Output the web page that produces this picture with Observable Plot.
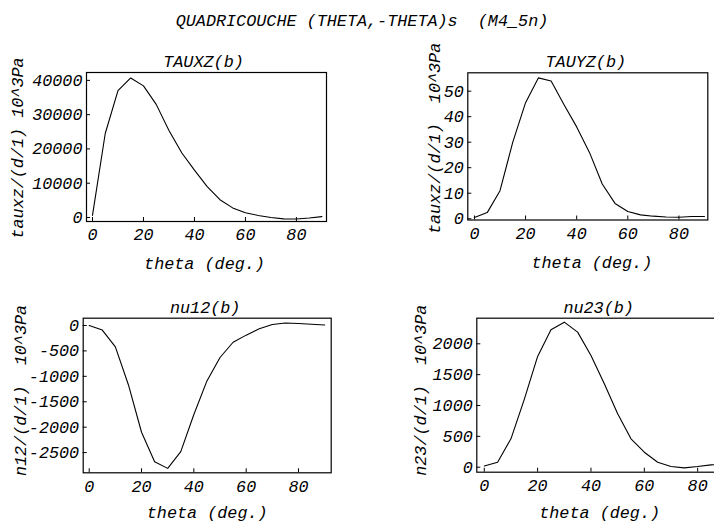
<!DOCTYPE html>
<html>
<head>
<meta charset="utf-8">
<script src="https://cdn.jsdelivr.net/npm/d3@7"></script>
<script src="https://cdn.jsdelivr.net/npm/@observablehq/plot@0.6"></script>
<style>
  html, body { margin: 0; padding: 0; background: #fff; }
  #page { position: relative; width: 714px; height: 522px; overflow: hidden; background: #fff; }
  .mono { font-family: "Liberation Mono", "DejaVu Sans Mono", monospace; font-style: italic; font-size: 16.8px; color: #000; }
  #title { position: absolute; left: 0; width: 724px; top: 12px; text-align: center; white-space: pre; line-height: 20px; }
  .panel { position: absolute; }
</style>
</head>
<body>
<div id="page">
  <div id="title" class="mono"></div>
</div>
<script>
// ---- data ----
const chartTitle = "QUADRICOUCHE (THETA,-THETA)s  (M4_5n)";
const theta = [0, 5, 10, 15, 20, 25, 30, 35, 40, 45, 50, 55, 60, 65, 70, 75, 80, 85, 90];
const tauxz = [600, 24500, 37000, 40700, 38400, 33000, 25400, 18900, 13800, 9000, 5200, 2800, 1400, 600, 0, -400, -450, -150, 250];
const tauyz = [0.5, 2.4, 11, 30, 45.5, 55.2, 54, 44.8, 36, 26, 13.6, 6, 2.8, 1.5, 1, 0.7, 0.6, 0.9, 0.9];
const nu12 = [0, -90, -420, -1170, -2100, -2680, -2810, -2480, -1750, -1090, -630, -330, -190, -65, 20, 50, 40, 25, 10];
const nu23 = [20, 80, 460, 1100, 1795, 2227, 2351, 2189, 1810, 1351, 865, 460, 243, 81, 11, -11, 11, 38, 43];

const xTicks = [0, 20, 40, 60, 80];
const tauxzTicks = [0, 10000, 20000, 30000, 40000];
const tauyzTicks = [0, 10, 20, 30, 40, 50];
const nu12Ticks = [0, -500, -1000, -1500, -2000, -2500];
const nu23Ticks = [0, 500, 1000, 1500, 2000];

const panelTitles = ["TAUXZ(b)", "TAUYZ(b)", "nu12(b)", "nu23(b)"];
const yLabels = ["tauxz/(d/1) 10^3Pa", "tauxz/(d/1)  10^3Pa", "n12/(d/1)  10^3Pa", "n23/(d/1)  10^3Pa"];
const xLabel = "theta (deg.)";

// ---- layout (page pixels) ----
const panels = [
  {values: tauxz, ticks: tauxzTicks, title: panelTitles[0], ylabel: yLabels[0],
   box: [0, 40, 357, 245], frame: [86, 72, 326, 221],
   xdom: [-2.35, 91.8], ydom: [-1170, 42300], ylabDx: -69, ylabDy: 1, tdx: -3, xldx: -2, xldy: 42},
  {values: tauyz, ticks: tauyzTicks, title: panelTitles[1], ylabel: yLabels[1],
   box: [357, 40, 357, 245], frame: [467.3, 72.3, 707.3, 219.5],
   xdom: [-2.6, 91.3], ydom: [-0.5, 57.2], ylabDx: -33, ylabDy: -8, tdx: -2, xldx: 4, xldy: 43},
  {values: nu12, ticks: nu12Ticks, title: panelTitles[2], ylabel: yLabels[2],
   box: [0, 285, 357, 237], frame: [82.7, 317.7, 330.7, 472.3],
   xdom: [-2.3, 92.5], ydom: [-2897, 143], ylabDx: -62.7, ylabDy: -5, tdx: -2, xldx: 0, xldy: 39.5},
  {values: nu23, ticks: nu23Ticks, title: panelTitles[3], ylabel: yLabels[3],
   box: [357, 285, 400, 237], frame: [476.3, 317.7, 730, 471.7],
   xdom: [-2.8, 92.3], ydom: [-81, 2415], ylabDx: -56, ylabDy: -5, tdx: -5, xldx: -4, xldy: 40}
];

document.getElementById("title").textContent = chartTitle;

const font = {
  fontFamily: '"Liberation Mono", "DejaVu Sans Mono", monospace',
  fontStyle: "italic",
  fontSize: "16.8px",
  background: "transparent",
  color: "#000",
  overflow: "visible"
};
const fmt = d => String(d);

const page = document.getElementById("page");
for (const p of panels) {
  const [bx, by, bw, bh] = p.box;
  const [fx0, fy0, fx1, fy1] = p.frame;
  const fw = fx1 - fx0, fh = fy1 - fy0;
  const rows = theta.map((t, i) => ({theta: t, v: p.values[i]}));
  const svg = Plot.plot({
    width: bw, height: bh,
    marginLeft: fx0 - bx, marginTop: fy0 - by,
    marginRight: bx + bw - fx1, marginBottom: by + bh - fy1,
    style: font,
    x: {domain: p.xdom, label: null},
    y: {domain: p.ydom, label: null},
    marks: [
      Plot.frame({stroke: "#000", strokeWidth: 1.2}),
      Plot.axisX({ticks: xTicks, tickSize: 0, tickPadding: 7, tickFormat: fmt, label: null}),
      Plot.axisY({ticks: p.ticks, tickSize: 0, tickPadding: 4, tickFormat: fmt, label: null}),
      Plot.tickX(xTicks, {x: d => d, insetTop: fh - 4, stroke: "#000"}),
      Plot.tickY(p.ticks, {y: d => d, insetRight: fw - 4, stroke: "#000"}),
      Plot.line(rows, {x: "theta", y: "v", stroke: "#000", strokeWidth: 1.1}),
      Plot.text([p.title], {text: d => d, frameAnchor: "top", dy: -11, dx: p.tdx,
        textAnchor: "middle", lineAnchor: "middle"}),
      Plot.text([xLabel], {text: d => d, frameAnchor: "bottom", dy: p.xldy, dx: p.xldx,
        textAnchor: "middle", lineAnchor: "middle"}),
      Plot.text([p.ylabel], {text: d => d, frameAnchor: "left", dx: p.ylabDx, dy: p.ylabDy, rotate: -90,
        textAnchor: "middle", lineAnchor: "middle"})
    ]
  });
  svg.classList.add("panel");
  svg.style.left = bx + "px";
  svg.style.top = by + "px";
  page.appendChild(svg);
}
</script>
</body>
</html>
